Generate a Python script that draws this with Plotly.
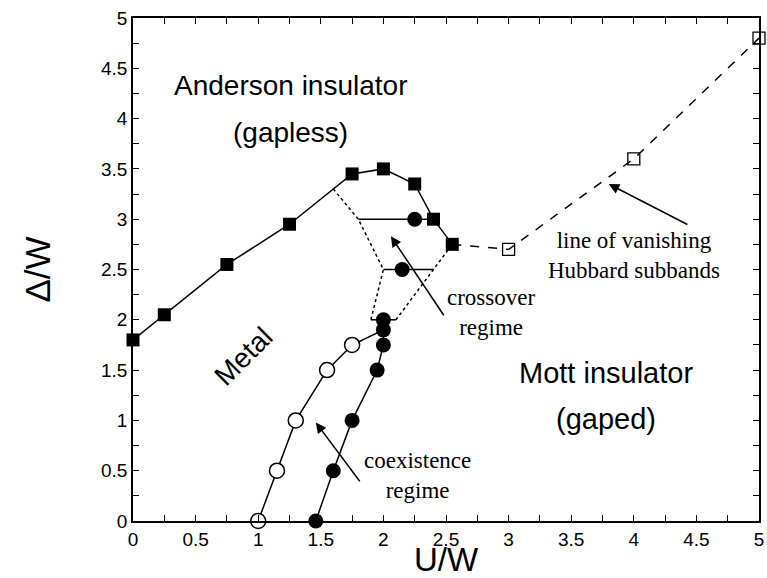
import plotly.graph_objects as go

# ---- data ----
anderson_u = [0.0, 0.25, 0.75, 1.25, 1.75, 2.0, 2.25, 2.4, 2.55]
anderson_d = [1.8, 2.05, 2.55, 2.95, 3.45, 3.5, 3.35, 3.0, 2.75]

hubbard_u = [2.55, 3.0, 4.0, 5.0]
hubbard_d = [2.75, 2.7, 3.6, 4.8]
hubbard_open_u = [3.0, 4.0, 5.0]
hubbard_open_d = [2.7, 3.6, 4.8]

filled_u = [1.46, 1.6, 1.75, 1.95, 2.0, 2.0, 2.0]
filled_d = [0.0, 0.5, 1.0, 1.5, 1.75, 1.9, 2.0]

open_u = [1.0, 1.15, 1.3, 1.55, 1.75]
open_d = [0.0, 0.5, 1.0, 1.5, 1.75]
open_link_u = [1.75, 2.0]
open_link_d = [1.75, 1.9]

cross_pts_u = [2.15, 2.25]
cross_pts_d = [2.5, 3.0]

seg3_u = [1.8, 2.4]
seg3_d = [3.0, 3.0]
seg25_u = [2.0, 2.4]
seg25_d = [2.5, 2.5]
seg2_u = [1.9, 2.1]
seg2_d = [2.0, 2.0]

dotl_u = [1.6, 1.8, 2.0, 1.9]
dotl_d = [3.3, 3.0, 2.5, 2.0]
dotr_u = [2.1, 2.55]
dotr_d = [2.0, 2.75]

tick_vals = [0, 0.5, 1, 1.5, 2, 2.5, 3, 3.5, 4, 4.5, 5]
tick_text = ["0", "0.5", "1", "1.5", "2", "2.5", "3", "3.5", "4", "4.5", "5"]

# arrows: (tail_u, tail_d, head_u, head_d)
arrow_cross = (2.49, 2.03, 2.06, 2.83)
arrow_coex = (1.82, 0.38, 1.46, 0.98)
arrow_hub = (4.44, 2.94, 3.80, 3.35)

BLACK = "black"
LW = 1.5

fig = go.Figure()

def line(u, d, dash="solid"):
    fig.add_trace(go.Scatter(x=u, y=d, mode="lines",
                             line=dict(color=BLACK, width=LW, dash=dash),
                             showlegend=False, hoverinfo="skip", cliponaxis=False))

line(dotl_u, dotl_d, "dot")
line(dotr_u, dotr_d, "dot")
line(seg3_u, seg3_d)
line(seg25_u, seg25_d)
line(seg2_u, seg2_d)
line(hubbard_u, hubbard_d, "dash")
line(open_link_u, open_link_d)

fig.add_trace(go.Scatter(x=anderson_u, y=anderson_d, mode="lines+markers",
                         line=dict(color=BLACK, width=LW),
                         marker=dict(symbol="square", size=13, color=BLACK),
                         showlegend=False, cliponaxis=False))
fig.add_trace(go.Scatter(x=hubbard_open_u, y=hubbard_open_d, mode="markers",
                         marker=dict(symbol="square-open", size=12, color=BLACK,
                                     line=dict(width=1.3, color=BLACK)),
                         showlegend=False, cliponaxis=False))
fig.add_trace(go.Scatter(x=open_u, y=open_d, mode="lines+markers",
                         line=dict(color=BLACK, width=LW),
                         marker=dict(symbol="circle", size=15, color="white",
                                     line=dict(width=1.5, color=BLACK)),
                         showlegend=False, cliponaxis=False))
fig.add_trace(go.Scatter(x=filled_u, y=filled_d, mode="lines+markers",
                         line=dict(color=BLACK, width=LW),
                         marker=dict(symbol="circle", size=15, color=BLACK),
                         showlegend=False, cliponaxis=False))
fig.add_trace(go.Scatter(x=cross_pts_u, y=cross_pts_d, mode="markers",
                         marker=dict(symbol="circle", size=15, color=BLACK),
                         showlegend=False, cliponaxis=False))

SANS = "Liberation Sans, Arial, sans-serif"
SERIF = "Liberation Serif, Times New Roman, serif"

def text(u, d, t, size, fam, angle=0):
    fig.add_annotation(x=u, y=d, xref="x", yref="y", text=t, showarrow=False,
                       font=dict(family=fam, size=size, color=BLACK),
                       textangle=angle, xanchor="center", yanchor="middle")

text(1.26, 4.33, "Anderson insulator", 28, SANS)
text(1.26, 3.86, "(gapless)", 28, SANS)
text(0.88, 1.64, "Metal", 28, SANS, -45)
text(3.78, 1.47, "Mott insulator", 29, SANS)
text(3.78, 1.01, "(gaped)", 29, SANS)
text(2.86, 2.07, "crossover<br>regime", 23, SERIF)
text(2.27, 0.45, "coexistence<br>regime", 23, SERIF)
text(4.0, 2.64, "line of vanishing<br>Hubbard subbands", 23, SERIF)

for tu, td, hu, hd in (arrow_cross, arrow_coex, arrow_hub):
    fig.add_annotation(x=hu, y=hd, ax=tu, ay=td, xref="x", yref="y",
                       axref="x", ayref="y", text="", showarrow=True,
                       arrowhead=2, arrowsize=1.4, arrowwidth=1.5,
                       arrowcolor=BLACK, standoff=0)

axis_common = dict(
    showgrid=False, zeroline=False, showline=True, linecolor=BLACK,
    linewidth=1.5, mirror="ticks", ticks="inside", ticklen=6, tickwidth=1.2,
    tickcolor=BLACK, tickvals=tick_vals, ticktext=tick_text,
    ticklabeloverflow="allow", automargin=False,
    tickfont=dict(family=SANS, size=19, color=BLACK),
    minor=dict(dtick=0.25, ticks="inside", ticklen=6, tickwidth=1.2,
               tickcolor=BLACK, tick0=0),
)

fig.update_xaxes(range=[0, 5], title=dict(text="U/W", standoff=6,
                 font=dict(family=SANS, size=33, color=BLACK)), **axis_common)
fig.update_yaxes(range=[0, 5], title=dict(text="Δ/W", standoff=40,
                 font=dict(family=SANS, size=35, color=BLACK)), **axis_common)

fig.update_layout(width=767, height=578,
                  margin=dict(l=133, r=8, t=18, b=57, pad=0),
                  plot_bgcolor="white", paper_bgcolor="white",
                  showlegend=False)

fig.write_html("out.html")
